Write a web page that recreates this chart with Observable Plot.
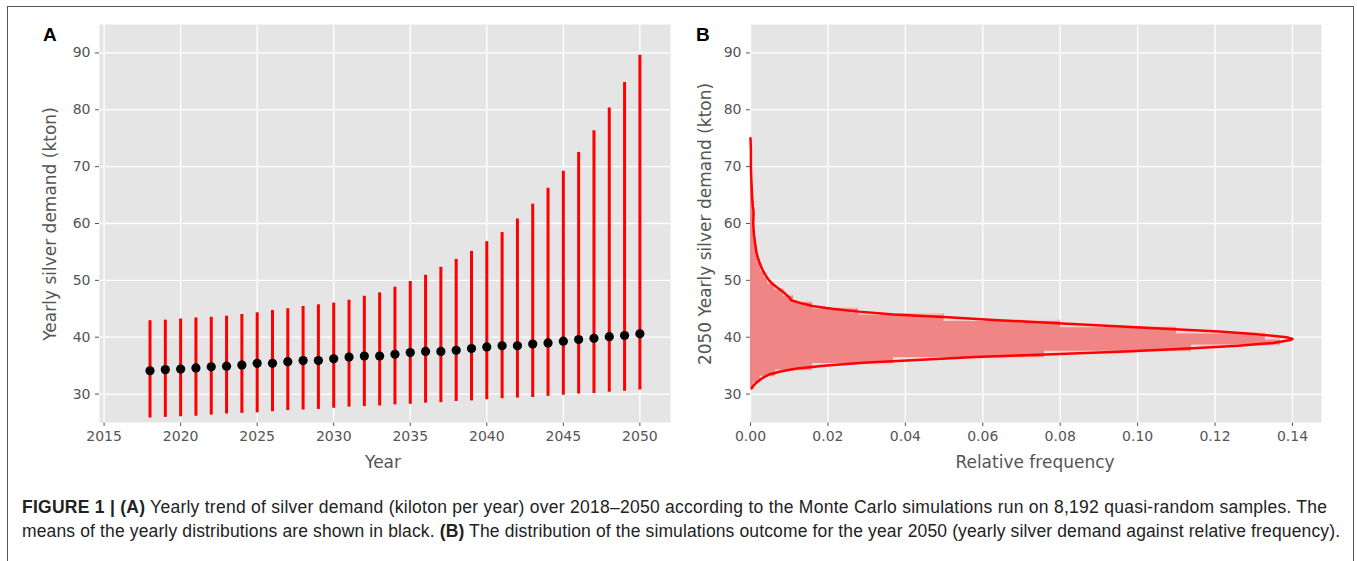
<!DOCTYPE html>
<html><head><meta charset="utf-8">
<script src="https://cdn.jsdelivr.net/npm/d3@7"></script>
<script src="https://cdn.jsdelivr.net/npm/@observablehq/plot@0.6"></script>
<style>
body{margin:0;background:#fff;width:1357px;height:561px;overflow:hidden;position:relative;font-family:"Liberation Sans",Arial,sans-serif}
#frame{position:absolute;left:7px;top:6px;width:1347px;height:620px;border:1.5px solid #555;box-sizing:border-box}
.panel{position:absolute;top:0}
.letter{position:absolute;font-weight:bold;font-size:19px;color:#000;line-height:1}
.axlab{position:absolute;font-family:"DejaVu Sans",sans-serif;font-size:17px;color:#555;white-space:nowrap;line-height:1}
.cap{position:absolute;left:22px;font-size:17.5px;color:#222;white-space:nowrap;line-height:20px}
</style></head><body>
<div id="frame"></div>
<div id="pa" class="panel" style="left:0"></div>
<div id="pb" class="panel" style="left:680px"></div>
<div class="letter" style="left:43px;top:25px">A</div>
<div class="letter" style="left:696px;top:25px">B</div>
<div class="axlab" style="left:50px;top:224px;transform:translate(-50%,-50%) rotate(-90deg)">Yearly silver demand (kton)</div>
<div class="axlab" style="left:705px;top:224px;transform:translate(-50%,-50%) rotate(-90deg)">2050 Yearly silver demand (kton)</div>
<div class="axlab" style="left:383px;top:462px;transform:translate(-50%,-50%)">Year</div>
<div class="axlab" style="left:1035px;top:462px;transform:translate(-50%,-50%)">Relative frequency</div>
<div class="cap" id="cap1" style="top:497px"><b>FIGURE 1 | (A)</b> Yearly trend of silver demand (kiloton per year) over 2018–2050 according to the Monte Carlo simulations run on 8,192 quasi-random samples. The</div>
<div class="cap" id="cap2" style="top:521px">means of the yearly distributions are shown in black. <b>(B)</b> The distribution of the simulations outcome for the year 2050 (yearly silver demand against relative frequency).</div>
<script>
// ---- Panel A data ----
const years = [2018,2019,2020,2021,2022,2023,2024,2025,2026,2027,2028,2029,2030,2031,2032,2033,2034,2035,2036,2037,2038,2039,2040,2041,2042,2043,2044,2045,2046,2047,2048,2049,2050];
const meanDemand = [34.1,34.3,34.4,34.6,34.8,34.9,35.1,35.4,35.4,35.7,35.9,35.9,36.2,36.5,36.7,36.7,37.0,37.3,37.5,37.5,37.7,38.0,38.3,38.5,38.5,38.8,39.0,39.3,39.6,39.8,40.1,40.3,40.6];
const lowDemand = [25.8,25.9,26.0,26.1,26.3,26.5,26.6,26.7,26.9,27.1,27.2,27.3,27.5,27.7,27.8,27.9,28.1,28.2,28.4,28.5,28.7,28.8,29.0,29.2,29.3,29.4,29.6,29.8,30.0,30.1,30.3,30.5,30.7];
const highDemand = [42.9,43.0,43.2,43.4,43.5,43.7,44.0,44.3,44.7,45.0,45.4,45.7,46.0,46.5,47.2,47.8,48.8,49.8,50.9,52.3,53.7,55.1,56.8,58.4,60.8,63.4,66.2,69.2,72.5,76.3,80.3,84.8,89.6];

// ---- Panel B data ----
const binStart = [30.9,32.0,33.1,34.2,35.3,36.4,37.5,38.6,39.7,40.8,41.9,43.0,44.1,45.2,46.3,47.4,48.5,49.6,50.7,51.8,52.9,54.0,55.1,56.2,57.3,58.4,59.5,60.6,61.7,62.8,63.9,65.0,66.1,67.2,68.3,69.4,70.5,71.6,72.7,73.8];
const binFreq = [0.0008,0.0025,0.0065,0.016,0.037,0.076,0.114,0.137,0.133,0.110,0.080,0.050,0.028,0.016,0.011,0.0085,0.0062,0.0045,0.0035,0.0027,0.0022,0.0017,0.0014,0.0011,0.0009,0.0008,0.0007,0.0007,0.0007,0.0005,0.0004,0.0003,0.0002,0.0002,0.0001,0.0001,0.0001,0.0001,0.0001,0.0001];
const binWidth = 1.1;
const kdeDemand = [31.0,31.5,32.0,32.5,33.0,33.5,34.0,34.5,35.0,35.5,36.0,36.5,37.0,37.5,38.0,38.5,39.0,39.5,39.7,40.0,40.5,41.0,41.5,42.0,42.5,43.0,43.5,44.0,44.5,45.0,45.5,46.0,46.5,47.0,47.5,48.0,48.5,49.0,49.5,50.0,51.0,52.0,53.0,54.0,55.0,56.0,57.0,58.0,59.0,60.0,62.0,63.0,65.0,68.0,70.0,73.0,75.0];
const kdeDensity = [0.0003,0.0008,0.0015,0.0025,0.0035,0.005,0.008,0.012,0.019,0.029,0.043,0.058,0.078,0.097,0.113,0.126,0.135,0.1395,0.140,0.1385,0.131,0.121,0.107,0.092,0.078,0.064,0.051,0.037,0.028,0.021,0.016,0.013,0.0105,0.0100,0.0092,0.0084,0.0074,0.0064,0.0055,0.0048,0.0038,0.003,0.0024,0.0019,0.0015,0.0013,0.0011,0.0009,0.0008,0.0007,0.0008,0.0006,0.0004,0.0002,0.0001,0.0001,0.0];

// ---- ticks ----
const yearTicks = [2015,2020,2025,2030,2035,2040,2045,2050];
const demandTicks = [30,40,50,60,70,80,90];
const freqTicks = [0,0.02,0.04,0.06,0.08,0.10,0.12,0.14];

const rowsA = years.map((y,i)=>({year:y, mean:meanDemand[i], lo:lowDemand[i], hi:highDemand[i]}));
const bins = binStart.map((s,i)=>({y1:s, y2:s+binWidth, f:binFreq[i]}));
const steps = bins.slice(1).map((b,i)=>({y:b.y1, a:Math.min(bins[i].f,b.f), b:Math.max(bins[i].f,b.f)}));
const kde = kdeDemand.map((v,i)=>({v, d:kdeDensity[i]}));

const baseStyle = {background:"transparent", fontSize:"14px", fontFamily:"DejaVu Sans, sans-serif", color:"#555", overflow:"visible"};
const grid = "#ffffff";

const plotA = Plot.plot({
  width:690, height:480, marginLeft:99, marginRight:20, marginTop:24, marginBottom:58,
  style: baseStyle,
  x:{domain:[2014.7,2052], ticks:yearTicks, tickFormat:d=>String(d), label:null, tickSize:4, tickPadding:5},
  y:{domain:[25,95], ticks:demandTicks, label:null, tickSize:4, tickPadding:5},
  marks:[
    Plot.frame({fill:"#e5e5e5", stroke:null}),
    Plot.ruleX(yearTicks, {stroke:grid, strokeWidth:1.3}),
    Plot.ruleY(demandTicks, {stroke:grid, strokeWidth:1.3}),
    Plot.ruleX(rowsA, {x:"year", y1:"lo", y2:"hi", stroke:"#ff0000", strokeWidth:3}),
    Plot.dot(rowsA, {x:"year", y:"mean", r:4.6, fill:"#000", stroke:null})
  ]
});
document.getElementById("pa").append(plotA);

const plotB = Plot.plot({
  width:677, height:480, marginLeft:70, marginRight:36, marginTop:24, marginBottom:58,
  style: baseStyle,
  x:{domain:[0,0.1475], ticks:freqTicks, tickFormat:d3.format(".2f"), label:null, tickSize:4, tickPadding:5},
  y:{domain:[25,95], ticks:demandTicks, label:null, tickSize:4, tickPadding:5},
  marks:[
    Plot.frame({fill:"#e5e5e5", stroke:null}),
    Plot.ruleX(freqTicks, {stroke:grid, strokeWidth:1.3}),
    Plot.ruleY(demandTicks, {stroke:grid, strokeWidth:1.3}),
    Plot.rectX(bins, {y1:"y1", y2:"y2", x1:0, x2:"f", fill:"#ef8585", inset:0, shapeRendering:"crispEdges"}),
    Plot.ruleY(steps, {y:"y", x1:"a", x2:"b", stroke:"#f6d0d0", strokeWidth:1.5}),
    Plot.line(kde, {x:"d", y:"v", stroke:"#ff0000", strokeWidth:2.5})
  ]
});
document.getElementById("pb").append(plotB);

// fit caption lines to the reference widths
[["cap1",1305],["cap2",1318]].forEach(([id,target])=>{
  const el=document.getElementById(id);
  const w=el.getBoundingClientRect().width;
  const n=el.textContent.length;
  el.style.letterSpacing=((target-w)/(n-1))+"px";
});
</script>
</body></html>
